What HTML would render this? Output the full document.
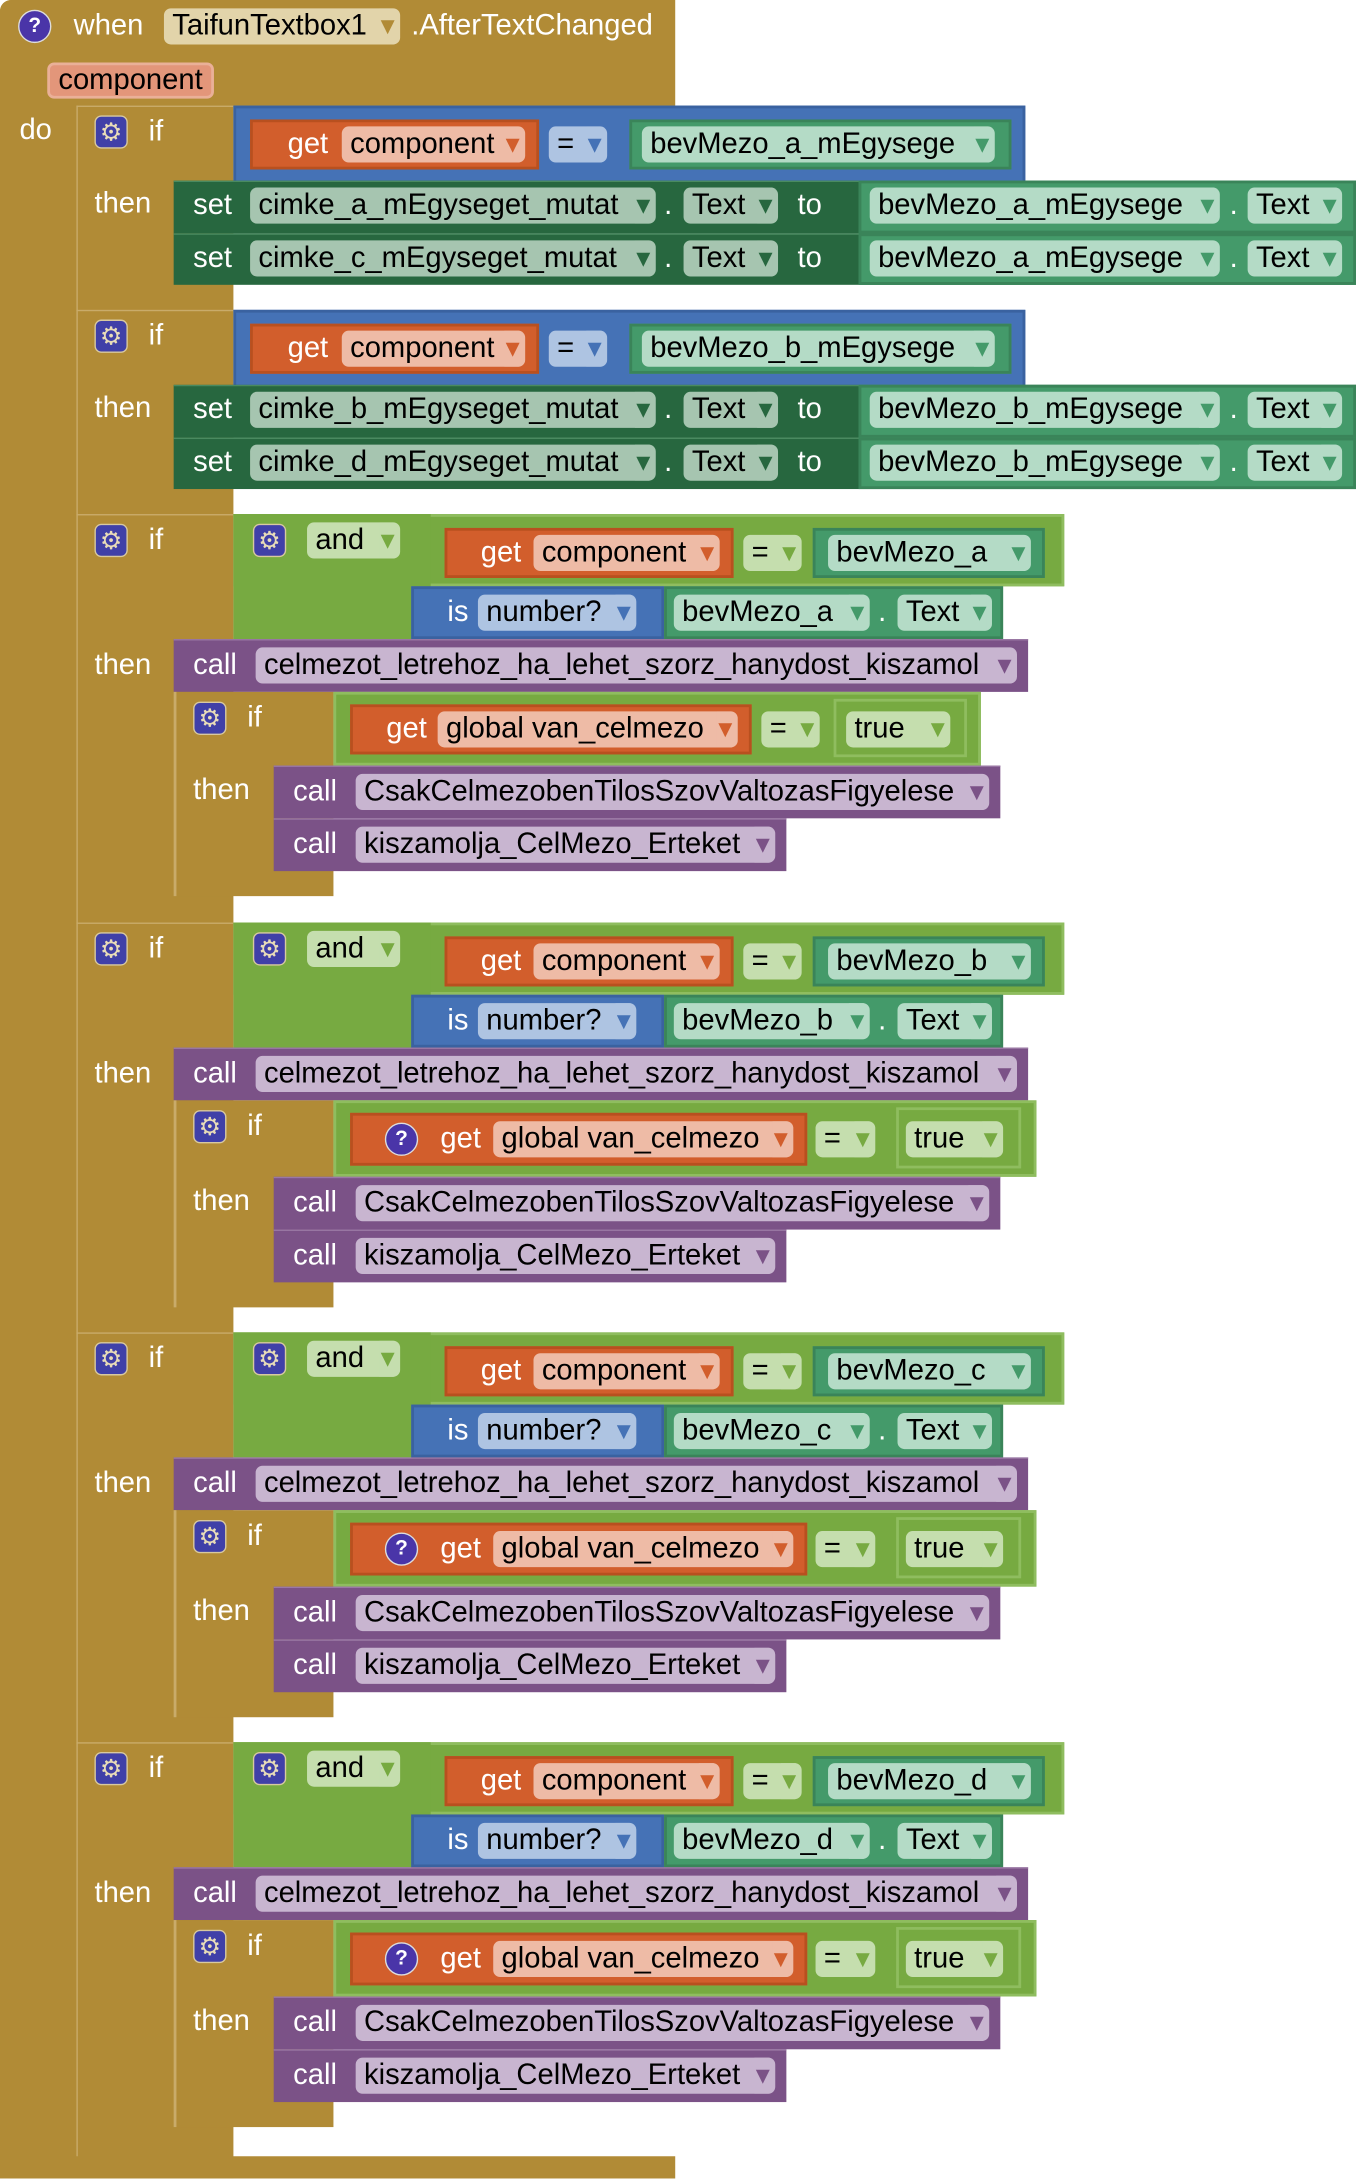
<!DOCTYPE html>
<html><head><meta charset="utf-8"><style>
html,body{margin:0;padding:0;background:#fff;width:1356px;height:2178px;overflow:hidden}
#c{position:absolute;left:0;top:0;width:976px;height:1568px;transform:scale(1.38934);transform-origin:0 0;font-family:"Liberation Sans",sans-serif}
.b{position:absolute;box-sizing:border-box}
.t{position:absolute;color:#fff;font-size:21px;line-height:26px;white-space:nowrap}
.p{position:absolute;height:26px;line-height:26px;border-radius:5px;font-size:21px;color:#000;padding-left:6px;box-sizing:border-box;white-space:nowrap;overflow:hidden}
.p i{font-style:normal;position:absolute;right:4px;top:0;font-size:20px;background:inherit;padding-left:1px}
.g{position:absolute;width:24px;height:24px;border-radius:5px;background:#4040a8;border:1px solid #d8c9a0;box-sizing:border-box;color:#e8dcb8;font-size:18px;line-height:22px;text-align:center}
.q{position:absolute;width:24px;height:24px;border-radius:12px;background:#4a35a8;border:1px solid #ddd;box-sizing:border-box;color:#fff;font-size:15px;font-weight:bold;line-height:22px;text-align:center}
.gold{background:#b18b36}
.blu{background:#4572b6;border:2px solid #3a62a0}
.org{background:#d25e2c;border:2px solid #b8501f}
.grn{background:#449a6a;border:2px solid #3a8459}
.dgr{background:#27673f;border-top:1px solid #4a8a60}
.lg{background:#77aa41;border:2px solid #8fbd5f}
.pur{background:#7b5287;border-top:1px solid #9a78a4}
</style></head><body><div id="c">
<div class="b gold" style="left:0;top:0;width:486px;height:76px;border-radius:8px 0 0 0"></div>
<div class="b gold" style="left:0;top:0;width:168px;height:1568px;border-radius:8px 0 0 8px"></div>
<div class="b gold" style="left:0;top:1552px;width:486px;height:16px"></div>
<div class="b" style="left:55px;top:76px;width:1px;height:1476px;background:#c9ab6a"></div>
<div class="q" style="left:13px;top:7px">?</div>
<div class="t" style="left:53px;top:6px">when</div>
<div class="p" style="left:118px;top:6px;width:170px;background:#e2d4aa">TaifunTextbox1<i style="color:#b18b36">▾</i></div>
<div class="t" style="left:296px;top:6px">.AfterTextChanged</div>
<div class="p" style="left:34px;top:45px;width:120px;background:#e3967a;border:2px solid #eab098;line-height:22px">component</div>
<div class="t" style="left:14px;top:81px">do</div>

<div style="position:absolute;left:0;top:76px">
<div class="b" style="left:55px;top:0;width:113px;height:1px;background:#c9ab6a"></div>
<div class="g" style="left:68px;top:7px">⚙</div><div class="t" style="left:107px;top:6px">if</div>
<div class="t" style="left:68px;top:58px">then</div>
<div class="b blu" style="left:168px;top:0;width:570px;height:61px"></div>
<div class="b org" style="left:180px;top:10px;width:208px;height:36px"></div>
<div class="t" style="left:207px;top:15px">get</div>
<div class="p" style="left:246px;top:15px;width:132px;background:#eebba6">component<i style="color:#d25e2c">▾</i></div>
<div class="p" style="left:395px;top:15px;width:42px;background:#aec4e2">=<i style="color:#4572b6">▾</i></div>
<div class="b grn" style="left:453px;top:10px;width:275px;height:36px"></div>
<div class="p" style="left:462px;top:15px;width:254px;background:#b4dbc6">bevMezo_a_mEgysege<i style="color:#449a6a">▾</i></div>
<div class="b dgr" style="left:125px;top:54px;width:851px;height:38px"></div>
<div class="t" style="left:139px;top:59px">set</div>
<div class="p" style="left:180px;top:59px;width:292px;background:#a6c5b0">cimke_a_mEgyseget_mutat<i style="color:#27673f">▾</i></div>
<div class="t" style="left:478px;top:59px">.</div>
<div class="p" style="left:492px;top:59px;width:68px;background:#a6c5b0">Text<i style="color:#27673f">▾</i></div>
<div class="t" style="left:574px;top:59px">to</div>
<div class="b grn" style="left:618px;top:54px;width:358px;height:38px"></div>
<div class="p" style="left:626px;top:59px;width:252px;background:#b4dbc6">bevMezo_a_mEgysege<i style="color:#449a6a">▾</i></div>
<div class="t" style="left:885px;top:59px">.</div>
<div class="p" style="left:898px;top:59px;width:68px;background:#b4dbc6">Text<i style="color:#449a6a">▾</i></div>
<div class="b dgr" style="left:125px;top:92px;width:851px;height:37px"></div>
<div class="t" style="left:139px;top:97px">set</div>
<div class="p" style="left:180px;top:97px;width:292px;background:#a6c5b0">cimke_c_mEgyseget_mutat<i style="color:#27673f">▾</i></div>
<div class="t" style="left:478px;top:97px">.</div>
<div class="p" style="left:492px;top:97px;width:68px;background:#a6c5b0">Text<i style="color:#27673f">▾</i></div>
<div class="t" style="left:574px;top:97px">to</div>
<div class="b grn" style="left:618px;top:92px;width:358px;height:37px"></div>
<div class="p" style="left:626px;top:97px;width:252px;background:#b4dbc6">bevMezo_a_mEgysege<i style="color:#449a6a">▾</i></div>
<div class="t" style="left:885px;top:97px">.</div>
<div class="p" style="left:898px;top:97px;width:68px;background:#b4dbc6">Text<i style="color:#449a6a">▾</i></div>
</div>

<div style="position:absolute;left:0;top:223px">
<div class="b" style="left:55px;top:0;width:113px;height:1px;background:#c9ab6a"></div>
<div class="g" style="left:68px;top:7px">⚙</div><div class="t" style="left:107px;top:6px">if</div>
<div class="t" style="left:68px;top:58px">then</div>
<div class="b blu" style="left:168px;top:0;width:570px;height:61px"></div>
<div class="b org" style="left:180px;top:10px;width:208px;height:36px"></div>
<div class="t" style="left:207px;top:15px">get</div>
<div class="p" style="left:246px;top:15px;width:132px;background:#eebba6">component<i style="color:#d25e2c">▾</i></div>
<div class="p" style="left:395px;top:15px;width:42px;background:#aec4e2">=<i style="color:#4572b6">▾</i></div>
<div class="b grn" style="left:453px;top:10px;width:275px;height:36px"></div>
<div class="p" style="left:462px;top:15px;width:254px;background:#b4dbc6">bevMezo_b_mEgysege<i style="color:#449a6a">▾</i></div>
<div class="b dgr" style="left:125px;top:54px;width:851px;height:38px"></div>
<div class="t" style="left:139px;top:59px">set</div>
<div class="p" style="left:180px;top:59px;width:292px;background:#a6c5b0">cimke_b_mEgyseget_mutat<i style="color:#27673f">▾</i></div>
<div class="t" style="left:478px;top:59px">.</div>
<div class="p" style="left:492px;top:59px;width:68px;background:#a6c5b0">Text<i style="color:#27673f">▾</i></div>
<div class="t" style="left:574px;top:59px">to</div>
<div class="b grn" style="left:618px;top:54px;width:358px;height:38px"></div>
<div class="p" style="left:626px;top:59px;width:252px;background:#b4dbc6">bevMezo_b_mEgysege<i style="color:#449a6a">▾</i></div>
<div class="t" style="left:885px;top:59px">.</div>
<div class="p" style="left:898px;top:59px;width:68px;background:#b4dbc6">Text<i style="color:#449a6a">▾</i></div>
<div class="b dgr" style="left:125px;top:92px;width:851px;height:37px"></div>
<div class="t" style="left:139px;top:97px">set</div>
<div class="p" style="left:180px;top:97px;width:292px;background:#a6c5b0">cimke_d_mEgyseget_mutat<i style="color:#27673f">▾</i></div>
<div class="t" style="left:478px;top:97px">.</div>
<div class="p" style="left:492px;top:97px;width:68px;background:#a6c5b0">Text<i style="color:#27673f">▾</i></div>
<div class="t" style="left:574px;top:97px">to</div>
<div class="b grn" style="left:618px;top:92px;width:358px;height:37px"></div>
<div class="p" style="left:626px;top:97px;width:252px;background:#b4dbc6">bevMezo_b_mEgysege<i style="color:#449a6a">▾</i></div>
<div class="t" style="left:885px;top:97px">.</div>
<div class="p" style="left:898px;top:97px;width:68px;background:#b4dbc6">Text<i style="color:#449a6a">▾</i></div>
</div>

<div style="position:absolute;left:0;top:370px">
<div class="b" style="left:55px;top:0;width:113px;height:1px;background:#c9ab6a"></div>
<div class="g" style="left:68px;top:7px">⚙</div><div class="t" style="left:107px;top:6px">if</div>
<div class="t" style="left:68px;top:96px">then</div>
<div class="b lg" style="left:168px;top:0;width:598px;height:52px"></div>
<div class="b" style="left:168px;top:0;width:142px;height:90px;background:#77aa41"></div>
<div class="g" style="left:182px;top:7px">⚙</div>
<div class="p" style="left:221px;top:6px;width:67px;background:#c5deae">and<i style="color:#77aa41">▾</i></div>
<div class="b org" style="left:320px;top:10px;width:208px;height:36px"></div>
<div class="t" style="left:346px;top:15px">get</div>
<div class="p" style="left:384px;top:15px;width:134px;background:#eebba6">component<i style="color:#d25e2c">▾</i></div>
<div class="p" style="left:535px;top:15px;width:42px;background:#c5deae">=<i style="color:#77aa41">▾</i></div>
<div class="b grn" style="left:585px;top:10px;width:167px;height:36px"></div>
<div class="p" style="left:596px;top:15px;width:146px;background:#b4dbc6">bevMezo_a<i style="color:#449a6a">▾</i></div>
<div class="b blu" style="left:296px;top:52px;width:182px;height:38px"></div>
<div class="t" style="left:322px;top:58px">is</div>
<div class="p" style="left:344px;top:58px;width:114px;background:#aec4e2">number?<i style="color:#4572b6">▾</i></div>
<div class="b grn" style="left:478px;top:52px;width:244px;height:38px"></div>
<div class="p" style="left:485px;top:58px;width:141px;background:#b4dbc6">bevMezo_a<i style="color:#449a6a">▾</i></div>
<div class="t" style="left:632px;top:58px">.</div>
<div class="p" style="left:646px;top:58px;width:68px;background:#b4dbc6">Text<i style="color:#449a6a">▾</i></div>
<div class="b pur" style="left:125px;top:90px;width:615px;height:38px"></div>
<div class="t" style="left:139px;top:96px">call</div>
<div class="p" style="left:184px;top:96px;width:548px;background:#c8b5d0">celmezot_letrehoz_ha_lehet_szorz_hanydost_kiszamol<i style="color:#7b5287">▾</i></div>
<div class="b gold" style="left:125px;top:128px;width:115px;height:147px;border-left:2px solid #c9ab6a"></div>
<div class="g" style="left:139px;top:135px">⚙</div><div class="t" style="left:178px;top:134px">if</div>
<div class="t" style="left:139px;top:186px">then</div>
<div class="b lg" style="left:240px;top:128px;width:466px;height:53px"></div>
<div class="b org" style="left:252px;top:137px;width:289px;height:36px"></div>
<div class="t" style="left:278px;top:142px">get</div>
<div class="p" style="left:315px;top:142px;width:216px;background:#eebba6">global van_celmezo<i style="color:#d25e2c">▾</i></div>
<div class="p" style="left:548px;top:142px;width:42px;background:#c5deae">=<i style="color:#77aa41">▾</i></div>
<div class="b lg" style="left:600px;top:133px;width:96px;height:42px"></div>
<div class="p" style="left:609px;top:142px;width:75px;background:#c5deae">true<i style="color:#77aa41">▾</i></div>
<div class="b pur" style="left:197px;top:181px;width:523px;height:38px"></div>
<div class="t" style="left:211px;top:187px">call</div>
<div class="p" style="left:256px;top:187px;width:456px;background:#c8b5d0">CsakCelmezobenTilosSzovValtozasFigyelese<i style="color:#7b5287">▾</i></div>
<div class="b pur" style="left:197px;top:219px;width:369px;height:38px"></div>
<div class="t" style="left:211px;top:225px">call</div>
<div class="p" style="left:256px;top:225px;width:302px;background:#c8b5d0">kiszamolja_CelMezo_Erteket<i style="color:#7b5287">▾</i></div>
</div>

<div style="position:absolute;left:0;top:664px">
<div class="b" style="left:55px;top:0;width:113px;height:1px;background:#c9ab6a"></div>
<div class="g" style="left:68px;top:7px">⚙</div><div class="t" style="left:107px;top:6px">if</div>
<div class="t" style="left:68px;top:96px">then</div>
<div class="b lg" style="left:168px;top:0;width:598px;height:52px"></div>
<div class="b" style="left:168px;top:0;width:142px;height:90px;background:#77aa41"></div>
<div class="g" style="left:182px;top:7px">⚙</div>
<div class="p" style="left:221px;top:6px;width:67px;background:#c5deae">and<i style="color:#77aa41">▾</i></div>
<div class="b org" style="left:320px;top:10px;width:208px;height:36px"></div>
<div class="t" style="left:346px;top:15px">get</div>
<div class="p" style="left:384px;top:15px;width:134px;background:#eebba6">component<i style="color:#d25e2c">▾</i></div>
<div class="p" style="left:535px;top:15px;width:42px;background:#c5deae">=<i style="color:#77aa41">▾</i></div>
<div class="b grn" style="left:585px;top:10px;width:167px;height:36px"></div>
<div class="p" style="left:596px;top:15px;width:146px;background:#b4dbc6">bevMezo_b<i style="color:#449a6a">▾</i></div>
<div class="b blu" style="left:296px;top:52px;width:182px;height:38px"></div>
<div class="t" style="left:322px;top:58px">is</div>
<div class="p" style="left:344px;top:58px;width:114px;background:#aec4e2">number?<i style="color:#4572b6">▾</i></div>
<div class="b grn" style="left:478px;top:52px;width:244px;height:38px"></div>
<div class="p" style="left:485px;top:58px;width:141px;background:#b4dbc6">bevMezo_b<i style="color:#449a6a">▾</i></div>
<div class="t" style="left:632px;top:58px">.</div>
<div class="p" style="left:646px;top:58px;width:68px;background:#b4dbc6">Text<i style="color:#449a6a">▾</i></div>
<div class="b pur" style="left:125px;top:90px;width:615px;height:38px"></div>
<div class="t" style="left:139px;top:96px">call</div>
<div class="p" style="left:184px;top:96px;width:548px;background:#c8b5d0">celmezot_letrehoz_ha_lehet_szorz_hanydost_kiszamol<i style="color:#7b5287">▾</i></div>
<div class="b gold" style="left:125px;top:128px;width:115px;height:149px;border-left:2px solid #c9ab6a"></div>
<div class="g" style="left:139px;top:135px">⚙</div><div class="t" style="left:178px;top:134px">if</div>
<div class="t" style="left:139px;top:188px">then</div>
<div class="b lg" style="left:240px;top:128px;width:506px;height:55px"></div>
<div class="b org" style="left:252px;top:137px;width:329px;height:38px"></div>
<div class="q" style="left:277px;top:144px">?</div>
<div class="t" style="left:317px;top:143px">get</div>
<div class="p" style="left:355px;top:143px;width:216px;background:#eebba6">global van_celmezo<i style="color:#d25e2c">▾</i></div>
<div class="p" style="left:587px;top:143px;width:43px;background:#c5deae">=<i style="color:#77aa41">▾</i></div>
<div class="b lg" style="left:645px;top:133px;width:90px;height:44px"></div>
<div class="p" style="left:652px;top:143px;width:70px;background:#c5deae">true<i style="color:#77aa41">▾</i></div>
<div class="b pur" style="left:197px;top:183px;width:523px;height:38px"></div>
<div class="t" style="left:211px;top:189px">call</div>
<div class="p" style="left:256px;top:189px;width:456px;background:#c8b5d0">CsakCelmezobenTilosSzovValtozasFigyelese<i style="color:#7b5287">▾</i></div>
<div class="b pur" style="left:197px;top:221px;width:369px;height:38px"></div>
<div class="t" style="left:211px;top:227px">call</div>
<div class="p" style="left:256px;top:227px;width:302px;background:#c8b5d0">kiszamolja_CelMezo_Erteket<i style="color:#7b5287">▾</i></div>
</div>

<div style="position:absolute;left:0;top:959px">
<div class="b" style="left:55px;top:0;width:113px;height:1px;background:#c9ab6a"></div>
<div class="g" style="left:68px;top:7px">⚙</div><div class="t" style="left:107px;top:6px">if</div>
<div class="t" style="left:68px;top:96px">then</div>
<div class="b lg" style="left:168px;top:0;width:598px;height:52px"></div>
<div class="b" style="left:168px;top:0;width:142px;height:90px;background:#77aa41"></div>
<div class="g" style="left:182px;top:7px">⚙</div>
<div class="p" style="left:221px;top:6px;width:67px;background:#c5deae">and<i style="color:#77aa41">▾</i></div>
<div class="b org" style="left:320px;top:10px;width:208px;height:36px"></div>
<div class="t" style="left:346px;top:15px">get</div>
<div class="p" style="left:384px;top:15px;width:134px;background:#eebba6">component<i style="color:#d25e2c">▾</i></div>
<div class="p" style="left:535px;top:15px;width:42px;background:#c5deae">=<i style="color:#77aa41">▾</i></div>
<div class="b grn" style="left:585px;top:10px;width:167px;height:36px"></div>
<div class="p" style="left:596px;top:15px;width:146px;background:#b4dbc6">bevMezo_c<i style="color:#449a6a">▾</i></div>
<div class="b blu" style="left:296px;top:52px;width:182px;height:38px"></div>
<div class="t" style="left:322px;top:58px">is</div>
<div class="p" style="left:344px;top:58px;width:114px;background:#aec4e2">number?<i style="color:#4572b6">▾</i></div>
<div class="b grn" style="left:478px;top:52px;width:244px;height:38px"></div>
<div class="p" style="left:485px;top:58px;width:141px;background:#b4dbc6">bevMezo_c<i style="color:#449a6a">▾</i></div>
<div class="t" style="left:632px;top:58px">.</div>
<div class="p" style="left:646px;top:58px;width:68px;background:#b4dbc6">Text<i style="color:#449a6a">▾</i></div>
<div class="b pur" style="left:125px;top:90px;width:615px;height:38px"></div>
<div class="t" style="left:139px;top:96px">call</div>
<div class="p" style="left:184px;top:96px;width:548px;background:#c8b5d0">celmezot_letrehoz_ha_lehet_szorz_hanydost_kiszamol<i style="color:#7b5287">▾</i></div>
<div class="b gold" style="left:125px;top:128px;width:115px;height:149px;border-left:2px solid #c9ab6a"></div>
<div class="g" style="left:139px;top:135px">⚙</div><div class="t" style="left:178px;top:134px">if</div>
<div class="t" style="left:139px;top:188px">then</div>
<div class="b lg" style="left:240px;top:128px;width:506px;height:55px"></div>
<div class="b org" style="left:252px;top:137px;width:329px;height:38px"></div>
<div class="q" style="left:277px;top:144px">?</div>
<div class="t" style="left:317px;top:143px">get</div>
<div class="p" style="left:355px;top:143px;width:216px;background:#eebba6">global van_celmezo<i style="color:#d25e2c">▾</i></div>
<div class="p" style="left:587px;top:143px;width:43px;background:#c5deae">=<i style="color:#77aa41">▾</i></div>
<div class="b lg" style="left:645px;top:133px;width:90px;height:44px"></div>
<div class="p" style="left:652px;top:143px;width:70px;background:#c5deae">true<i style="color:#77aa41">▾</i></div>
<div class="b pur" style="left:197px;top:183px;width:523px;height:38px"></div>
<div class="t" style="left:211px;top:189px">call</div>
<div class="p" style="left:256px;top:189px;width:456px;background:#c8b5d0">CsakCelmezobenTilosSzovValtozasFigyelese<i style="color:#7b5287">▾</i></div>
<div class="b pur" style="left:197px;top:221px;width:369px;height:38px"></div>
<div class="t" style="left:211px;top:227px">call</div>
<div class="p" style="left:256px;top:227px;width:302px;background:#c8b5d0">kiszamolja_CelMezo_Erteket<i style="color:#7b5287">▾</i></div>
</div>

<div style="position:absolute;left:0;top:1254px">
<div class="b" style="left:55px;top:0;width:113px;height:1px;background:#c9ab6a"></div>
<div class="g" style="left:68px;top:7px">⚙</div><div class="t" style="left:107px;top:6px">if</div>
<div class="t" style="left:68px;top:96px">then</div>
<div class="b lg" style="left:168px;top:0;width:598px;height:52px"></div>
<div class="b" style="left:168px;top:0;width:142px;height:90px;background:#77aa41"></div>
<div class="g" style="left:182px;top:7px">⚙</div>
<div class="p" style="left:221px;top:6px;width:67px;background:#c5deae">and<i style="color:#77aa41">▾</i></div>
<div class="b org" style="left:320px;top:10px;width:208px;height:36px"></div>
<div class="t" style="left:346px;top:15px">get</div>
<div class="p" style="left:384px;top:15px;width:134px;background:#eebba6">component<i style="color:#d25e2c">▾</i></div>
<div class="p" style="left:535px;top:15px;width:42px;background:#c5deae">=<i style="color:#77aa41">▾</i></div>
<div class="b grn" style="left:585px;top:10px;width:167px;height:36px"></div>
<div class="p" style="left:596px;top:15px;width:146px;background:#b4dbc6">bevMezo_d<i style="color:#449a6a">▾</i></div>
<div class="b blu" style="left:296px;top:52px;width:182px;height:38px"></div>
<div class="t" style="left:322px;top:58px">is</div>
<div class="p" style="left:344px;top:58px;width:114px;background:#aec4e2">number?<i style="color:#4572b6">▾</i></div>
<div class="b grn" style="left:478px;top:52px;width:244px;height:38px"></div>
<div class="p" style="left:485px;top:58px;width:141px;background:#b4dbc6">bevMezo_d<i style="color:#449a6a">▾</i></div>
<div class="t" style="left:632px;top:58px">.</div>
<div class="p" style="left:646px;top:58px;width:68px;background:#b4dbc6">Text<i style="color:#449a6a">▾</i></div>
<div class="b pur" style="left:125px;top:90px;width:615px;height:38px"></div>
<div class="t" style="left:139px;top:96px">call</div>
<div class="p" style="left:184px;top:96px;width:548px;background:#c8b5d0">celmezot_letrehoz_ha_lehet_szorz_hanydost_kiszamol<i style="color:#7b5287">▾</i></div>
<div class="b gold" style="left:125px;top:128px;width:115px;height:149px;border-left:2px solid #c9ab6a"></div>
<div class="g" style="left:139px;top:135px">⚙</div><div class="t" style="left:178px;top:134px">if</div>
<div class="t" style="left:139px;top:188px">then</div>
<div class="b lg" style="left:240px;top:128px;width:506px;height:55px"></div>
<div class="b org" style="left:252px;top:137px;width:329px;height:38px"></div>
<div class="q" style="left:277px;top:144px">?</div>
<div class="t" style="left:317px;top:143px">get</div>
<div class="p" style="left:355px;top:143px;width:216px;background:#eebba6">global van_celmezo<i style="color:#d25e2c">▾</i></div>
<div class="p" style="left:587px;top:143px;width:43px;background:#c5deae">=<i style="color:#77aa41">▾</i></div>
<div class="b lg" style="left:645px;top:133px;width:90px;height:44px"></div>
<div class="p" style="left:652px;top:143px;width:70px;background:#c5deae">true<i style="color:#77aa41">▾</i></div>
<div class="b pur" style="left:197px;top:183px;width:523px;height:38px"></div>
<div class="t" style="left:211px;top:189px">call</div>
<div class="p" style="left:256px;top:189px;width:456px;background:#c8b5d0">CsakCelmezobenTilosSzovValtozasFigyelese<i style="color:#7b5287">▾</i></div>
<div class="b pur" style="left:197px;top:221px;width:369px;height:38px"></div>
<div class="t" style="left:211px;top:227px">call</div>
<div class="p" style="left:256px;top:227px;width:302px;background:#c8b5d0">kiszamolja_CelMezo_Erteket<i style="color:#7b5287">▾</i></div>
</div>
</div></body></html>
